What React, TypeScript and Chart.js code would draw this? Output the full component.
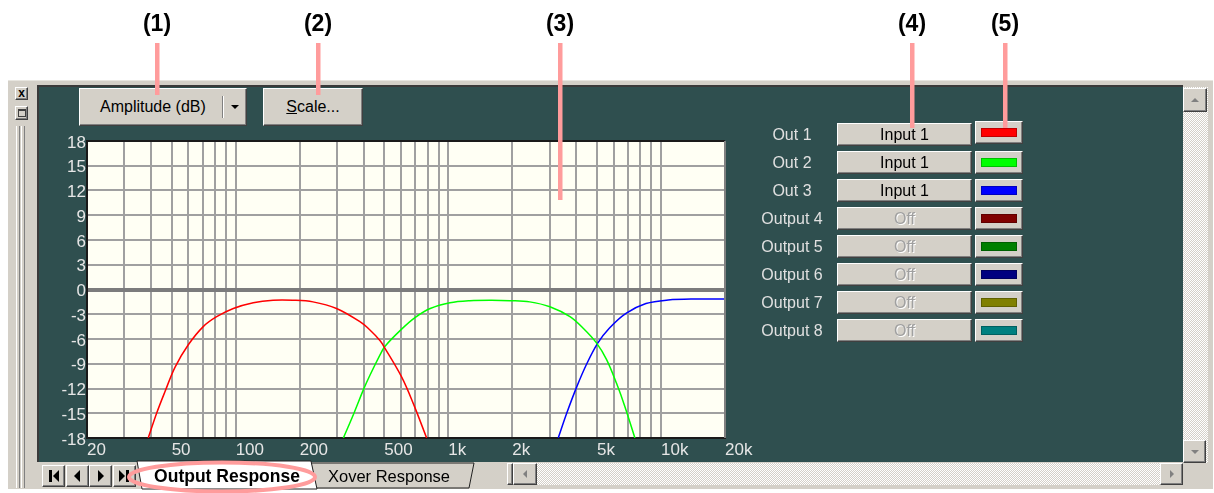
import React, { useEffect, useRef } from 'react';
import { Chart, registerables } from 'chart.js';

Chart.register(...registerables);

// ---------- DATA ----------
const freqGrid = [20, 30, 40, 50, 60, 70, 80, 90, 100, 200, 300, 400, 500, 600, 700, 800, 900, 1000, 2000, 3000, 4000, 5000, 6000, 7000, 8000, 9000, 10000, 20000];
const freqLabelValues = [20, 50, 100, 200, 500, 1000, 2000, 5000, 10000, 20000];
const freqLabelTexts = ['20', '50', '100', '200', '500', '1k', '2k', '5k', '10k', '20k'];

const out1Freq = [38.8, 42.5, 46.5, 51.9, 59.9, 70.4, 81.4, 97.5, 121, 150, 186, 231, 298, 384, 428, 478, 503, 603, 684, 791];
const out1Db = [-18, -15, -12.4, -9.4, -6.7, -4.5, -3.3, -2.3, -1.6, -1.3, -1.3, -1.5, -2.3, -3.9, -4.9, -6.2, -7.1, -10.6, -13.8, -18];

const out2Freq = [321, 360, 398, 428, 478, 503, 603, 697, 822, 1018, 1263, 1600, 1948, 2415, 3004, 3732, 4308, 4982, 5550, 6186, 6768, 7540];
const out2Db = [-18, -15, -12.2, -10.4, -7.9, -6.9, -4.8, -3.4, -2.3, -1.6, -1.35, -1.3, -1.35, -1.5, -2.1, -3.3, -4.7, -6.5, -8.5, -11.4, -14.2, -18];

const out3Freq = [3287, 3603, 4016, 4478, 5042, 5714, 6846, 8495, 10810, 14700, 20000];
const out3Db = [-18, -15, -11.8, -9, -6.5, -4.7, -2.9, -1.7, -1.27, -1.15, -1.15];

const outputNames = ['Out 1', 'Out 2', 'Out 3', 'Output 4', 'Output 5', 'Output 6', 'Output 7', 'Output 8'];
const outputSources = ['Input 1', 'Input 1', 'Input 1', 'Off', 'Off', 'Off', 'Off', 'Off'];
const outputColors = ['#ff0000', '#00ff00', '#0000ff', '#800000', '#008000', '#000080', '#808000', '#008080'];

const calloutTexts = ['(1)', '(2)', '(3)', '(4)', '(5)'];

// ---------- STYLE HELPERS ----------
const FONT = '"Liberation Sans", Arial, sans-serif';
const GRAY = '#d4d0c8';
const TEAL = '#2f4f4f';
const PINK = '#ff9c9c';
const DOTS = `repeating-conic-gradient(${GRAY} 0% 25%, #ffffff 0% 50%) 0 0 / 2px 2px`;

const raised = (extra: React.CSSProperties): React.CSSProperties => ({
  position: 'absolute',
  boxSizing: 'border-box',
  background: GRAY,
  borderTop: '1px solid #ffffff',
  borderLeft: '1px solid #ffffff',
  borderRight: '1px solid #404040',
  borderBottom: '1px solid #404040',
  boxShadow: 'inset -1px -1px 0 #808080',
  ...extra,
});

const abs = (extra: React.CSSProperties): React.CSSProperties => ({ position: 'absolute', boxSizing: 'border-box', ...extra });

const toPoints = (fs: number[], ds: number[]) => fs.map((f, i) => ({ x: f, y: ds[i] }));

const plotFrame = {
  id: 'plotFrame',
  beforeDraw(chart: any) {
    const { ctx, chartArea } = chart;
    const { left, top, right, bottom } = chartArea;
    ctx.save();
    ctx.fillStyle = '#fffff4';
    ctx.fillRect(left, top, right - left, bottom - top);
    ctx.restore();
  },
  afterDraw(chart: any) {
    const { ctx, chartArea } = chart;
    const { left, top, right, bottom } = chartArea;
    ctx.save();
    ctx.lineWidth = 2;
    ctx.strokeStyle = '#1a1a1a';
    ctx.beginPath();
    ctx.moveTo(left - 1, top);
    ctx.lineTo(right, top);
    ctx.stroke();
    ctx.strokeStyle = '#808080';
    ctx.beginPath();
    ctx.moveTo(right, top);
    ctx.lineTo(right, bottom);
    ctx.stroke();
    ctx.restore();
  },
};

function Tri({ dir, color = '#000' }: { dir: 'up' | 'down' | 'left' | 'right'; color?: string }) {
  const paths: Record<string, string> = {
    up: 'M0 4 L4 0 L8 4 Z',
    down: 'M0 0 L8 0 L4 4 Z',
    left: 'M4 0 L4 8 L0 4 Z',
    right: 'M0 0 L0 8 L4 4 Z',
  };
  const w = dir === 'up' || dir === 'down' ? 8 : 4;
  const h = dir === 'up' || dir === 'down' ? 4 : 8;
  return (
    <svg width={w} height={h} style={{ display: 'block' }}>
      <path d={paths[dir]} fill={color} />
    </svg>
  );
}

const center: React.CSSProperties = { display: 'flex', alignItems: 'center', justifyContent: 'center' };

export default function App() {
  const canvasRef = useRef<HTMLCanvasElement>(null);

  useEffect(() => {
    const canvas = canvasRef.current;
    if (!canvas) return;
    const chart = new Chart(canvas, {
      type: 'line',
      data: {
        datasets: [
          { label: outputNames[0], data: toPoints(out1Freq, out1Db), borderColor: outputColors[0] },
          { label: outputNames[1], data: toPoints(out2Freq, out2Db), borderColor: outputColors[1] },
          { label: outputNames[2], data: toPoints(out3Freq, out3Db), borderColor: outputColors[2] },
        ].map((d) => ({ ...d, borderWidth: 1.5, pointRadius: 0, fill: false, tension: 0.35 })),
      },
      options: {
        responsive: false,
        animation: false,
        events: [],
        layout: { padding: { top: 13, right: 40, left: 0, bottom: 0 } },
        plugins: { legend: { display: false }, tooltip: { enabled: false } },
        scales: {
          x: {
            type: 'logarithmic',
            min: 20,
            max: 20000,
            afterBuildTicks: (scale: any) => {
              scale.ticks = freqGrid.map((v) => ({ value: v }));
            },
            afterFit: (scale: any) => {
              scale.height = 24;
            },
            ticks: {
              autoSkip: false,
              maxRotation: 0,
              align: 'start',
              padding: 2,
              color: '#e6e6e6',
              font: { family: FONT, size: 17 },
              callback: (value: any) => {
                const i = freqLabelValues.indexOf(Number(value));
                return i >= 0 ? freqLabelTexts[i] : '';
              },
            },
            grid: { color: '#a0a0a0', lineWidth: 2, drawTicks: false },
            border: { display: true, color: '#1a1a1a', width: 2 },
          },
          y: {
            type: 'linear',
            min: -18,
            max: 18,
            afterFit: (scale: any) => {
              scale.width = 48;
            },
            ticks: {
              stepSize: 3,
              padding: 1,
              labelOffset: 2,
              color: '#e6e6e6',
              font: { family: FONT, size: 17 },
            },
            grid: {
              drawTicks: false,
              color: (ctx: any) => (ctx.tick && ctx.tick.value === 0 ? '#7c7c7c' : '#a0a0a0'),
              lineWidth: (ctx: any) => (ctx.tick && ctx.tick.value === 0 ? 4 : 2),
            },
            border: { display: true, color: '#1a1a1a', width: 2 },
          },
        },
      },
      plugins: [plotFrame],
    } as any);
    return () => chart.destroy();
  }, []);

  const calloutX = [157, 318, 560, 912, 1005];
  const calloutBottom = [95, 95, 200, 128, 128];

  return (
    <div style={{ position: 'fixed', left: 0, top: 0, width: 1214, height: 493, background: '#ffffff', overflow: 'hidden', fontFamily: FONT }}>
      {/* window frame */}
      <div style={abs({ left: 8, top: 80, width: 1205, height: 410, background: GRAY, borderTop: '1px solid #e8e6e0', borderBottom: '1px solid #ffffff' })} />
      {/* close / restore */}
      <div style={raised({ left: 15, top: 87, width: 13, height: 13, ...center, fontSize: 12, fontWeight: 'bold', lineHeight: '10px', paddingBottom: 2 })}>x</div>
      <div style={raised({ left: 15, top: 106, width: 13, height: 14, ...center })}>
        <div style={{ width: 6, height: 5, border: '1px solid #404040', borderTopWidth: 2, background: GRAY }} />
      </div>
      {/* grip */}
      <div style={abs({ left: 16, top: 126, width: 4, height: 362, borderLeft: '1px solid #ffffff', borderRight: '1px solid #808080' })} />
      <div style={abs({ left: 21, top: 126, width: 4, height: 362, borderLeft: '1px solid #ffffff', borderRight: '1px solid #808080' })} />

      {/* teal client area */}
      <div style={abs({ left: 37, top: 85, width: 1146, height: 377, background: TEAL, borderTop: '2px solid #3a3a3a', borderLeft: '2px solid #3a3a3a' })} />

      {/* Amplitude combo */}
      <div style={raised({ left: 79, top: 88, width: 168, height: 38 })}>
        <div style={{ position: 'absolute', left: 20, top: 0, height: 36, lineHeight: '36px', fontSize: 16, color: '#000' }}>Amplitude (dB)</div>
        <div style={{ position: 'absolute', left: 142, top: 7, width: 2, height: 22, borderLeft: '1px solid #808080', borderRight: '1px solid #ffffff', boxSizing: 'border-box' }} />
        <div style={{ position: 'absolute', left: 151, top: 16 }}>
          <Tri dir="down" />
        </div>
      </div>
      {/* Scale button */}
      <div style={raised({ left: 263, top: 88, width: 100, height: 38, ...center, fontSize: 16, color: '#000' })}>
        <span>
          <span style={{ textDecoration: 'underline' }}>S</span>cale...
        </span>
      </div>

      {/* chart */}
      <div style={abs({ left: 39, top: 128, width: 726, height: 334 })}>
        <canvas ref={canvasRef} width={726} height={334} style={{ display: 'block', width: 726, height: 334 }} />
      </div>

      {/* outputs panel */}
      {outputNames.map((name, i) => {
        const top = 123 + i * 28;
        const on = outputSources[i] !== 'Off';
        return (
          <React.Fragment key={name}>
            <div style={abs({ left: 742, top, width: 100, height: 23, lineHeight: '23px', textAlign: 'center', fontSize: 16, color: '#e0e0e0' })}>{name}</div>
            <div
              style={raised({
                left: 837,
                top,
                width: 135,
                height: 23,
                ...center,
                fontSize: 16,
                color: on ? '#000' : '#a0a0a0',
                textShadow: on ? 'none' : '1px 1px 0 #ffffff',
              })}
            >
              {outputSources[i]}
            </div>
            <div style={raised({ left: 975, top: top - (i === 0 ? 2 : 0), width: 48, height: 23, ...center })}>
              <div style={{ width: 36, height: 9, background: outputColors[i], boxSizing: 'border-box', border: '1px solid rgba(0,0,0,0.25)' }} />
            </div>
          </React.Fragment>
        );
      })}

      {/* vertical scrollbar */}
      <div style={abs({ left: 1183, top: 87, width: 25, height: 376, background: DOTS })} />
      <div style={raised({ left: 1183, top: 88, width: 24, height: 24, ...center })}>
        <Tri dir="up" color="#808080" />
      </div>
      <div style={raised({ left: 1183, top: 440, width: 23, height: 23, ...center })}>
        <Tri dir="down" color="#808080" />
      </div>
      <div style={abs({ left: 1183, top: 463, width: 25, height: 22, background: GRAY })} />

      {/* horizontal scrollbar */}
      <div style={abs({ left: 537, top: 463, width: 623, height: 22, background: DOTS })} />
      <div style={raised({ left: 507, top: 463, width: 6, height: 22 })} />
      <div style={raised({ left: 513, top: 463, width: 24, height: 22, ...center })}>
        <Tri dir="left" color="#808080" />
      </div>
      <div style={raised({ left: 1160, top: 463, width: 23, height: 22, ...center })}>
        <Tri dir="right" color="#808080" />
      </div>

      {/* tab navigation buttons */}
      {['first', 'prev', 'next', 'last'].map((k, i) => (
        <div key={k} style={raised({ left: 42 + i * 23.5, top: 465, width: 23, height: 22, ...center })}>
          <div style={{ display: 'flex', alignItems: 'center', gap: 0 }}>
            {k === 'first' && <div style={{ width: 3, height: 12, background: '#000', marginRight: 1 }} />}
            {k === 'first' || k === 'prev' ? (
              <svg width={6} height={12} style={{ display: 'block' }}>
                <path d="M6 0 L6 12 L0 6 Z" fill="#000" />
              </svg>
            ) : (
              <svg width={6} height={12} style={{ display: 'block' }}>
                <path d="M0 0 L0 12 L6 6 Z" fill="#000" />
              </svg>
            )}
            {k === 'last' && <div style={{ width: 3, height: 12, background: '#000', marginLeft: 1 }} />}
          </div>
        </div>
      ))}

      {/* tabs */}
      <svg style={{ position: 'absolute', left: 0, top: 0 }} width={1214} height={493}>
        <polygon points="311,463 474,463 469,488 316,488" fill={GRAY} stroke="#202020" strokeWidth={1} />
        <polygon points="137,461 311,461 317,489 142,489" fill="#ffffff" stroke="#202020" strokeWidth={1} />
      </svg>
      <div style={abs({ left: 137, top: 463, width: 180, height: 26, lineHeight: '26px', textAlign: 'center', fontSize: 17.5, fontWeight: 'bold', color: '#000' })}>Output Response</div>
      <div style={abs({ left: 328, top: 464, width: 145, height: 24, lineHeight: '24px', fontSize: 16.5, color: '#000' })}>Xover Response</div>

      {/* callouts */}
      <svg style={{ position: 'absolute', left: 0, top: 0, pointerEvents: 'none' }} width={1214} height={493}>
        {calloutX.map((x, i) => (
          <rect key={i} x={x - 2} y={43} width={4.5} height={calloutBottom[i] - 43} fill={PINK} />
        ))}
        <ellipse cx={222} cy={477} rx={93} ry={14.5} fill="none" stroke={PINK} strokeWidth={4} />
      </svg>
      {calloutTexts.map((t, i) => (
        <div key={t} style={abs({ left: calloutX[i] - 30, top: 9, width: 60, height: 28, lineHeight: '28px', textAlign: 'center', fontSize: 23, fontWeight: 'bold', color: '#000' })}>
          {t}
        </div>
      ))}
    </div>
  );
}
